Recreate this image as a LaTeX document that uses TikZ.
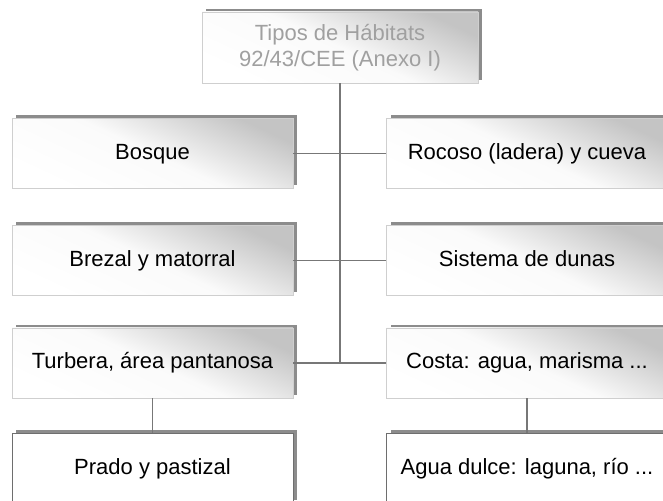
\documentclass[tikz,border=0pt]{standalone}
\usepackage{fontspec}
\setmainfont{Liberation Sans}
\usetikzlibrary{shadows}

\definecolor{boxedge}{HTML}{CFCFCF}
\definecolor{boxshade}{HTML}{C4C4C4}
\definecolor{shadowgray}{HTML}{8C8C8C}
\definecolor{leafedge}{HTML}{6E6E6E}
\definecolor{linkgray}{HTML}{777777}
\definecolor{titlegray}{HTML}{A0A0A0}

\newcommand{\habfont}{\fontsize{22pt}{26.5pt}\selectfont}

\tikzset{
    habbase/.style={line width=0.8pt, minimum width=281pt, minimum height=70pt,
        inner sep=0pt, align=center, font=\habfont, text height=16pt, text depth=4pt,
        general shadow={fill=shadowgray, shadow xshift=4pt, shadow yshift=3pt}},
    habbox/.style={habbase, draw=boxedge, top color=boxshade, bottom color=white,
        middle color=white!92!boxshade, shading angle=-25},
    leafbox/.style={habbase, draw=leafedge, fill=white},
    link/.style={draw=linkgray, line width=1.5pt}
}

\begin{document}
\begin{tikzpicture}[x=1pt, y=1pt]
    \clip (0,0) rectangle (663,500);

    % Title
    \node[habbox, minimum width=276pt, minimum height=71pt, text=titlegray,
        text height=, text depth=] (habitats) at (340,452.5)
        {Tipos de Hábitats\\92/43/CEE (Anexo I)};

    % Left column
    \node[habbox] (bosque)  at (152.5,346.5) {Bosque};
    \node[habbox] (brezal)  at (152.5,239.5) {Brezal y matorral};
    \node[habbox] (turbera) at (152.5,137)   {Turbera, área pantanosa};

    % Right column
    \node[habbox] (rocoso) at (527,346.5) {Rocoso (ladera) y cueva};
    \node[habbox] (dunas)  at (527,239.5) {Sistema de dunas};
    \node[habbox] (costa)  at (527,137)   {Costa: agua, marisma ...};

    % Bottom row
    \node[leafbox] (prado) at (152.5,32) {Prado y pastizal};
    \node[leafbox] (agua)  at (527,32)   {Agua dulce: laguna, río ...};

    % Trunk
    \coordinate (trunkend) at (habitats.south |- turbera.east);
    \draw[link] (habitats.south) -- (trunkend);

    % Branches
    \draw[link] (bosque.east) -- (rocoso.west);
    \draw[link] (brezal.east) -- (dunas.west);
    \draw[link] (turbera.east) -- (costa.west);
    \draw[link] (turbera.south) -- (prado.north);
    \draw[link] (costa.south) -- (agua.north);
\end{tikzpicture}
\end{document}
